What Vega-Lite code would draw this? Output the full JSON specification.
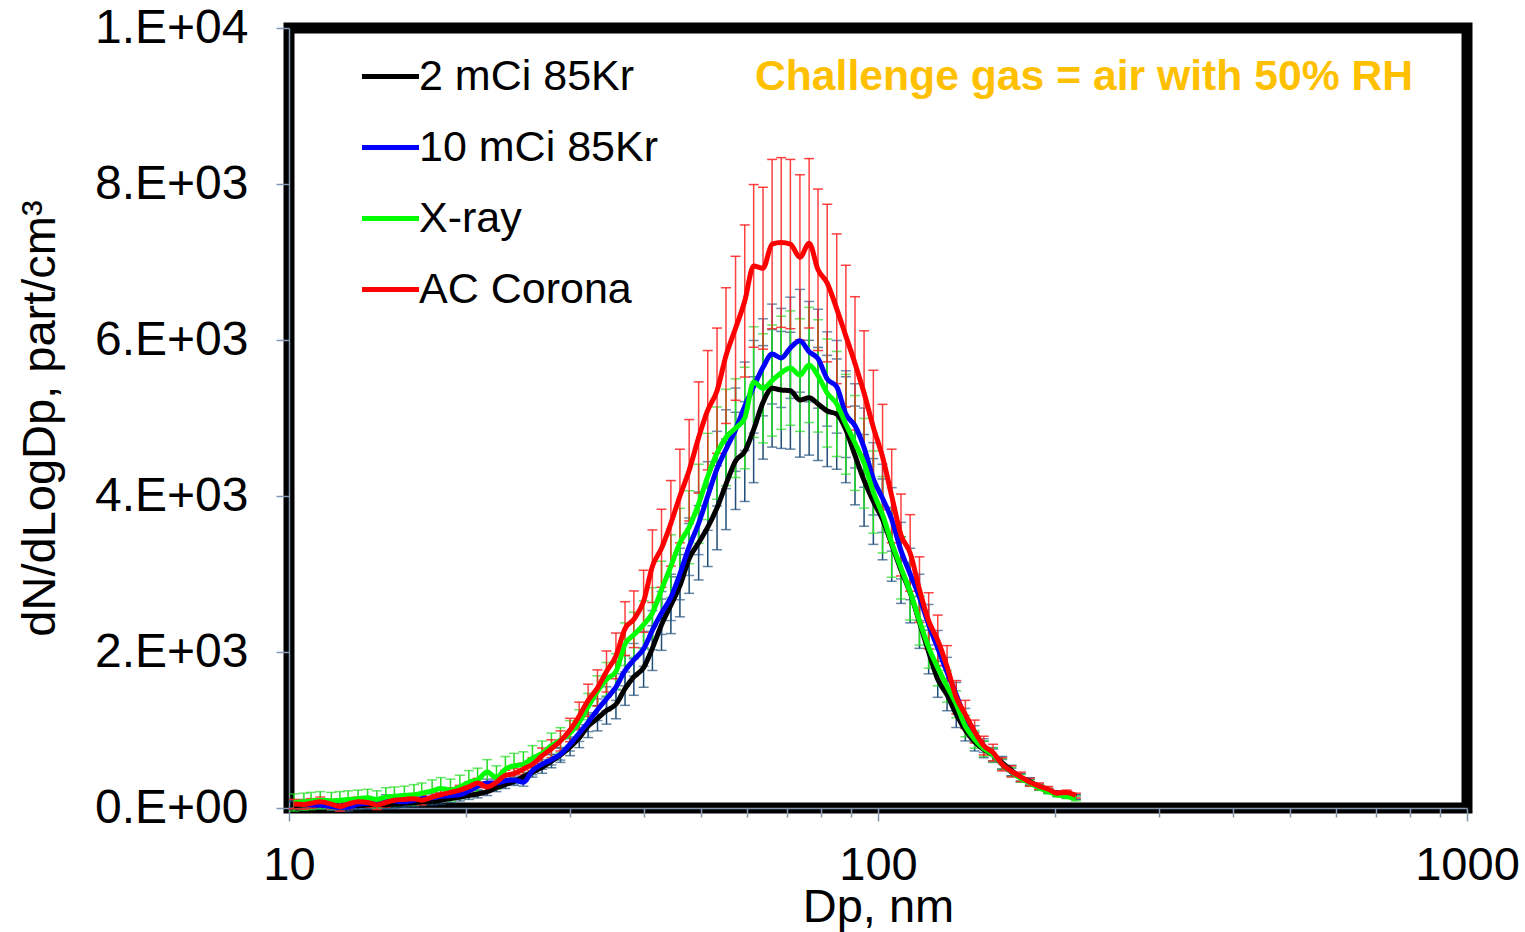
{
"$schema":"https://vega.github.io/schema/vega-lite/v6.json",
"autosize":"none",
"padding":{"left":289,"top":28,"right":58,"bottom":124},
"width":1178,"height":780,
"background":"white",
"config":{"view":{"stroke":"black","strokeWidth":11},"font":"Liberation Sans",
"axisY":{"grid":false,"tickSize":13,"tickWidth":1.5,"tickColor":"#8497B0","domainColor":"#8497B0","domainWidth":1.5,"labelFont":"Liberation Sans","labelFontSize":48,"labelColor":"black","labelPadding":28,"labelFlush":false,"labelOverlap":false,"titleFont":"Liberation Sans","titleFontSize":47,"titleFontWeight":"normal","titleColor":"black","titlePadding":30},
"legend":{"orient":"none","legendX":70,"legendY":17,"title":null,"symbolType":"stroke","symbolSize":3250,"symbolStrokeWidth":5,"labelFont":"Liberation Sans","labelFontSize":43,"labelColor":"black","labelLimit":600,"rowPadding":17,"labelOffset":-3,"padding":0}},
"data":{"values":[
{"d":10.2,"k":30,"b":50,"g":70,"r":50,"ke":50,"be":50,"ge":110,"re":60},
{"d":10.6,"k":40,"b":60,"g":80,"r":45,"ke":50,"be":50,"ge":110,"re":60},
{"d":10.9,"k":50,"b":40,"g":90,"r":60,"ke":50,"be":50,"ge":110,"re":60},
{"d":11.3,"k":40,"b":40,"g":100,"r":80,"ke":50,"be":50,"ge":110,"re":60},
{"d":11.8,"k":30,"b":20,"g":90,"r":50,"ke":50,"be":50,"ge":110,"re":60},
{"d":12.2,"k":20,"b":10,"g":100,"r":20,"ke":50,"be":50,"ge":110,"re":60},
{"d":12.6,"k":30,"b":10,"g":110,"r":50,"ke":50,"be":50,"ge":110,"re":60},
{"d":13.1,"k":30,"b":50,"g":120,"r":80,"ke":50,"be":50,"ge":110,"re":60},
{"d":13.6,"k":40,"b":60,"g":130,"r":70,"ke":50,"be":50,"ge":110,"re":60},
{"d":14.1,"k":50,"b":70,"g":110,"r":40,"ke":50,"be":50,"ge":110,"re":60},
{"d":14.6,"k":40,"b":120,"g":140,"r":70,"ke":50,"be":50,"ge":120,"re":60},
{"d":15.1,"k":50,"b":90,"g":150,"r":100,"ke":50,"be":50,"ge":120,"re":60},
{"d":15.7,"k":60,"b":80,"g":160,"r":110,"ke":50,"be":50,"ge":120,"re":60},
{"d":16.3,"k":70,"b":100,"g":170,"r":120,"ke":50,"be":50,"ge":130,"re":60},
{"d":16.8,"k":80,"b":120,"g":190,"r":100,"ke":50,"be":50,"ge":130,"re":60},
{"d":17.5,"k":90,"b":130,"g":220,"r":140,"ke":50,"be":50,"ge":140,"re":60},
{"d":18.1,"k":100,"b":150,"g":250,"r":170,"ke":50,"be":50,"ge":140,"re":60},
{"d":18.8,"k":120,"b":160,"g":230,"r":200,"ke":50,"be":50,"ge":140,"re":60},
{"d":19.5,"k":140,"b":170,"g":270,"r":230,"ke":50,"be":50,"ge":150,"re":60},
{"d":20.2,"k":160,"b":220,"g":330,"r":270,"ke":50,"be":50,"ge":150,"re":60},
{"d":20.9,"k":180,"b":280,"g":360,"r":320,"ke":50,"be":50,"ge":150,"re":60},
{"d":21.7,"k":210,"b":320,"g":460,"r":270,"ke":50,"be":50,"ge":160,"re":60},
{"d":22.5,"k":260,"b":320,"g":390,"r":330,"ke":50,"be":50,"ge":150,"re":60},
{"d":23.3,"k":300,"b":350,"g":500,"r":420,"ke":50,"be":50,"ge":160,"re":63},
{"d":24.1,"k":340,"b":360,"g":540,"r":440,"ke":50,"be":50,"ge":160,"re":66},
{"d":25.0,"k":400,"b":330,"g":560,"r":500,"ke":56,"be":50,"ge":160,"re":75},
{"d":25.9,"k":460,"b":480,"g":640,"r":560,"ke":64,"be":53,"ge":160,"re":84},
{"d":26.9,"k":520,"b":560,"g":700,"r":670,"ke":73,"be":62,"ge":160,"re":100},
{"d":27.9,"k":600,"b":620,"g":800,"r":760,"ke":84,"be":68,"ge":160,"re":114},
{"d":28.9,"k":680,"b":690,"g":870,"r":860,"ke":95,"be":76,"ge":160,"re":129},
{"d":30.0,"k":780,"b":820,"g":960,"r":1000,"ke":109,"be":90,"ge":160,"re":150},
{"d":31.1,"k":900,"b":960,"g":1100,"r":1180,"ke":126,"be":106,"ge":160,"re":177},
{"d":32.2,"k":1050,"b":1100,"g":1300,"r":1380,"ke":147,"be":121,"ge":169,"re":207},
{"d":33.4,"k":1150,"b":1260,"g":1500,"r":1540,"ke":161,"be":139,"ge":195,"re":231},
{"d":34.6,"k":1250,"b":1400,"g":1650,"r":1750,"ke":175,"be":154,"ge":215,"re":263},
{"d":35.9,"k":1330,"b":1550,"g":1750,"r":1950,"ke":186,"be":171,"ge":228,"re":293},
{"d":37.2,"k":1530,"b":1760,"g":2100,"r":2300,"ke":214,"be":194,"ge":273,"re":345},
{"d":38.5,"k":1680,"b":1900,"g":2220,"r":2420,"ke":235,"be":209,"ge":289,"re":363},
{"d":40.0,"k":1800,"b":2040,"g":2350,"r":2650,"ke":252,"be":224,"ge":306,"re":398},
{"d":41.4,"k":2050,"b":2280,"g":2500,"r":3100,"ke":287,"be":251,"ge":325,"re":465},
{"d":42.9,"k":2350,"b":2500,"g":2800,"r":3330,"ke":329,"be":275,"ge":364,"re":500},
{"d":44.5,"k":2600,"b":2700,"g":3100,"r":3650,"ke":364,"be":297,"ge":403,"re":548},
{"d":46.1,"k":2850,"b":3000,"g":3400,"r":4000,"ke":399,"be":330,"ge":442,"re":600},
{"d":47.8,"k":3200,"b":3350,"g":3600,"r":4330,"ke":448,"be":369,"ge":468,"re":650},
{"d":49.6,"k":3400,"b":3650,"g":3900,"r":4750,"ke":476,"be":402,"ge":507,"re":713},
{"d":51.4,"k":3600,"b":4000,"g":4250,"r":5100,"ke":504,"be":440,"ge":553,"re":765},
{"d":53.3,"k":3850,"b":4350,"g":4550,"r":5350,"ke":539,"be":479,"ge":592,"re":803},
{"d":55.2,"k":4150,"b":4600,"g":4750,"r":5800,"ke":581,"be":506,"ge":618,"re":870},
{"d":57.3,"k":4450,"b":4850,"g":4870,"r":6150,"ke":623,"be":534,"ge":633,"re":923},
{"d":59.4,"k":4570,"b":5150,"g":5000,"r":6500,"ke":640,"be":567,"ge":650,"re":975},
{"d":61.5,"k":4850,"b":5400,"g":5460,"r":6950,"ke":679,"be":594,"ge":710,"re":1043},
{"d":63.8,"k":5200,"b":5650,"g":5380,"r":6920,"ke":728,"be":622,"ge":699,"re":1038},
{"d":66.1,"k":5380,"b":5820,"g":5480,"r":7230,"ke":753,"be":640,"ge":712,"re":1085},
{"d":68.5,"k":5360,"b":5770,"g":5580,"r":7250,"ke":750,"be":635,"ge":725,"re":1088},
{"d":71.0,"k":5350,"b":5900,"g":5640,"r":7230,"ke":749,"be":649,"ge":733,"re":1085},
{"d":73.7,"k":5230,"b":5990,"g":5550,"r":7060,"ke":732,"be":659,"ge":722,"re":1059},
{"d":76.4,"k":5260,"b":5850,"g":5680,"r":7240,"ke":736,"be":644,"ge":738,"re":1086},
{"d":79.1,"k":5180,"b":5760,"g":5540,"r":6900,"ke":725,"be":634,"ge":720,"re":1035},
{"d":82.0,"k":5090,"b":5500,"g":5320,"r":6730,"ke":713,"be":605,"ge":692,"re":1010},
{"d":85.1,"k":5050,"b":5400,"g":5180,"r":6400,"ke":707,"be":594,"ge":673,"re":960},
{"d":88.2,"k":4850,"b":5050,"g":4920,"r":6050,"ke":679,"be":556,"ge":640,"re":908},
{"d":91.4,"k":4520,"b":4900,"g":4680,"r":5700,"ke":633,"be":539,"ge":608,"re":855},
{"d":94.7,"k":4200,"b":4620,"g":4420,"r":5320,"ke":588,"be":508,"ge":575,"re":798},
{"d":98.2,"k":3930,"b":4220,"g":4050,"r":4880,"ke":550,"be":464,"ge":527,"re":732},
{"d":101.8,"k":3700,"b":3970,"g":3760,"r":4500,"ke":518,"be":437,"ge":489,"re":675},
{"d":105.5,"k":3380,"b":3700,"g":3400,"r":4000,"ke":473,"be":407,"ge":442,"re":600},
{"d":109.4,"k":3050,"b":3300,"g":3080,"r":3500,"ke":427,"be":363,"ge":400,"re":525},
{"d":113.4,"k":2760,"b":3000,"g":2770,"r":3270,"ke":386,"be":330,"ge":360,"re":491},
{"d":117.6,"k":2380,"b":2700,"g":2400,"r":2800,"ke":333,"be":297,"ge":312,"re":420},
{"d":121.9,"k":2000,"b":2350,"g":2060,"r":2400,"ke":280,"be":259,"ge":268,"re":360},
{"d":126.3,"k":1650,"b":2050,"g":1800,"r":2150,"ke":231,"be":226,"ge":234,"re":323},
{"d":131.0,"k":1450,"b":1740,"g":1560,"r":1810,"ke":203,"be":191,"ge":203,"re":272},
{"d":135.8,"k":1200,"b":1450,"g":1330,"r":1420,"ke":168,"be":160,"ge":173,"re":213},
{"d":140.7,"k":1000,"b":1150,"g":1050,"r":1200,"ke":140,"be":127,"ge":137,"re":180},
{"d":145.9,"k":850,"b":950,"g":880,"r":980,"ke":119,"be":105,"ge":114,"re":147},
{"d":151.2,"k":750,"b":800,"g":760,"r":800,"ke":105,"be":88,"ge":99,"re":120},
{"d":156.8,"k":680,"b":680,"g":680,"r":710,"ke":95,"be":75,"ge":88,"re":107},
{"d":162.5,"k":580,"b":560,"g":560,"r":560,"ke":81,"be":62,"ge":73,"re":84},
{"d":168.5,"k":480,"b":460,"g":460,"r":470,"ke":67,"be":51,"ge":60,"re":71},
{"d":174.7,"k":390,"b":390,"g":380,"r":400,"ke":55,"be":43,"ge":49,"re":60},
{"d":181.1,"k":340,"b":330,"g":320,"r":330,"ke":48,"be":36,"ge":42,"re":50},
{"d":187.7,"k":270,"b":270,"g":260,"r":280,"ke":38,"be":30,"ge":34,"re":42},
{"d":194.6,"k":220,"b":220,"g":210,"r":240,"ke":31,"be":30,"ge":30,"re":36},
{"d":201.7,"k":180,"b":190,"g":170,"r":190,"ke":30,"be":30,"ge":30,"re":30},
{"d":209.1,"k":160,"b":160,"g":150,"r":200,"ke":30,"be":30,"ge":30,"re":30},
{"d":216.7,"k":140,"b":140,"g":120,"r":160,"ke":30,"be":30,"ge":30,"re":30}
]},
"resolve":{"axis":{"x":"independent"}},
"layer":[
{"mark":{"type":"errorbar","ticks":true,"size":10,"thickness":1.5,"color":"#1F4E79"},
 "encoding":{
  "x":{"field":"d","type":"quantitative","scale":{"type":"log","domain":[10,1000]},
   "axis":{"orient":"bottom","values":[10,100,1000],"format":"d","title":"Dp, nm","grid":false,"tickSize":13,"tickWidth":1.5,"tickColor":"#8497B0","domainColor":"#8497B0","domainWidth":1.5,"labelFont":"Liberation Sans","labelFontSize":47,"labelColor":"black","labelPadding":21,"labelFlush":false,"labelOverlap":false,"titleFont":"Liberation Sans","titleFontSize":47,"titleFontWeight":"normal","titleColor":"black","titlePadding":-4}},
  "y":{"field":"k","type":"quantitative","scale":{"domain":[0,10000],"nice":false},"title":"dN/dLogDp, part/cm³","axis":{"values":[0,2000,4000,6000,8000,10000],"labelExpr":"datum.value == 0 ? '0.E+00' : datum.value == 10000 ? '1.E+04' : format(datum.value/1000,'d') + '.E+03'"}},
  "yError":{"field":"ke"}}},
{"mark":{"type":"errorbar","ticks":true,"size":10,"thickness":1.5,"color":"#2E5C8A"},
 "encoding":{
  "x":{"field":"d","type":"quantitative","scale":{"type":"log","domain":[10,1000]},
   "axis":{"orient":"bottom","values":[20,30,40,50,60,70,80,90,200,300,400,500,600,700,800,900],"labels":false,"title":null,"grid":false,"domain":false,"tickSize":9,"tickWidth":1.5,"tickColor":"#8497B0"}},
  "y":{"field":"b","type":"quantitative","scale":{"domain":[0,10000],"nice":false},"title":"dN/dLogDp, part/cm³","axis":{"values":[0,2000,4000,6000,8000,10000],"labelExpr":"datum.value == 0 ? '0.E+00' : datum.value == 10000 ? '1.E+04' : format(datum.value/1000,'d') + '.E+03'"}},
  "yError":{"field":"be"}}},
{"mark":{"type":"errorbar","ticks":true,"size":10,"thickness":1.5,"color":"#22DD22"},
 "encoding":{
  "x":{"field":"d","type":"quantitative","scale":{"type":"log","domain":[10,1000]},"axis":null},
  "y":{"field":"g","type":"quantitative","scale":{"domain":[0,10000],"nice":false},"title":"dN/dLogDp, part/cm³","axis":{"values":[0,2000,4000,6000,8000,10000],"labelExpr":"datum.value == 0 ? '0.E+00' : datum.value == 10000 ? '1.E+04' : format(datum.value/1000,'d') + '.E+03'"}},
  "yError":{"field":"ge"}}},
{"mark":{"type":"errorbar","ticks":true,"size":10,"thickness":1.5,"color":"#FF2020","opacity":0.85},
 "encoding":{
  "x":{"field":"d","type":"quantitative","scale":{"type":"log","domain":[10,1000]},"axis":null},
  "y":{"field":"r","type":"quantitative","scale":{"domain":[0,10000],"nice":false},"title":"dN/dLogDp, part/cm³","axis":{"values":[0,2000,4000,6000,8000,10000],"labelExpr":"datum.value == 0 ? '0.E+00' : datum.value == 10000 ? '1.E+04' : format(datum.value/1000,'d') + '.E+03'"}},
  "yError":{"field":"re"}}},
{"mark":{"type":"line","strokeWidth":5,"interpolate":"monotone"},
 "encoding":{
  "x":{"field":"d","type":"quantitative","scale":{"type":"log","domain":[10,1000]},"axis":null},
  "y":{"field":"k","type":"quantitative","scale":{"domain":[0,10000],"nice":false},"title":"dN/dLogDp, part/cm³","axis":{"values":[0,2000,4000,6000,8000,10000],"labelExpr":"datum.value == 0 ? '0.E+00' : datum.value == 10000 ? '1.E+04' : format(datum.value/1000,'d') + '.E+03'"}},
  "color":{"datum":"2 mCi 85Kr","type":"nominal","scale":{"domain":["2 mCi 85Kr","10 mCi 85Kr","X-ray","AC Corona"],"range":["#000000","#0000FF","#00FF00","#FF0000"]}}}},
{"mark":{"type":"line","strokeWidth":5,"interpolate":"monotone"},
 "encoding":{
  "x":{"field":"d","type":"quantitative","scale":{"type":"log","domain":[10,1000]},"axis":null},
  "y":{"field":"b","type":"quantitative","scale":{"domain":[0,10000],"nice":false},"title":"dN/dLogDp, part/cm³","axis":{"values":[0,2000,4000,6000,8000,10000],"labelExpr":"datum.value == 0 ? '0.E+00' : datum.value == 10000 ? '1.E+04' : format(datum.value/1000,'d') + '.E+03'"}},
  "color":{"datum":"10 mCi 85Kr","type":"nominal"}}},
{"mark":{"type":"line","strokeWidth":5,"interpolate":"monotone"},
 "encoding":{
  "x":{"field":"d","type":"quantitative","scale":{"type":"log","domain":[10,1000]},"axis":null},
  "y":{"field":"g","type":"quantitative","scale":{"domain":[0,10000],"nice":false},"title":"dN/dLogDp, part/cm³","axis":{"values":[0,2000,4000,6000,8000,10000],"labelExpr":"datum.value == 0 ? '0.E+00' : datum.value == 10000 ? '1.E+04' : format(datum.value/1000,'d') + '.E+03'"}},
  "color":{"datum":"X-ray","type":"nominal"}}},
{"mark":{"type":"line","strokeWidth":5,"interpolate":"monotone"},
 "encoding":{
  "x":{"field":"d","type":"quantitative","scale":{"type":"log","domain":[10,1000]},"axis":null},
  "y":{"field":"r","type":"quantitative","scale":{"domain":[0,10000],"nice":false},"title":"dN/dLogDp, part/cm³","axis":{"values":[0,2000,4000,6000,8000,10000],"labelExpr":"datum.value == 0 ? '0.E+00' : datum.value == 10000 ? '1.E+04' : format(datum.value/1000,'d') + '.E+03'"}},
  "color":{"datum":"AC Corona","type":"nominal"}}},
{"data":{"values":[{"t":"Challenge gas = air with 50% RH"}]},
 "mark":{"type":"text","align":"left","baseline":"middle","font":"Liberation Sans","fontSize":42.7,"fontWeight":"bold","color":"#FFC000"},
 "encoding":{
  "x":{"datum":61.8,"type":"quantitative","scale":{"type":"log","domain":[10,1000]},"axis":null},
  "y":{"datum":9370,"type":"quantitative","scale":{"domain":[0,10000],"nice":false},"title":"dN/dLogDp, part/cm³","axis":{"values":[0,2000,4000,6000,8000,10000],"labelExpr":"datum.value == 0 ? '0.E+00' : datum.value == 10000 ? '1.E+04' : format(datum.value/1000,'d') + '.E+03'"}},
  "text":{"field":"t"}}}
]
}
